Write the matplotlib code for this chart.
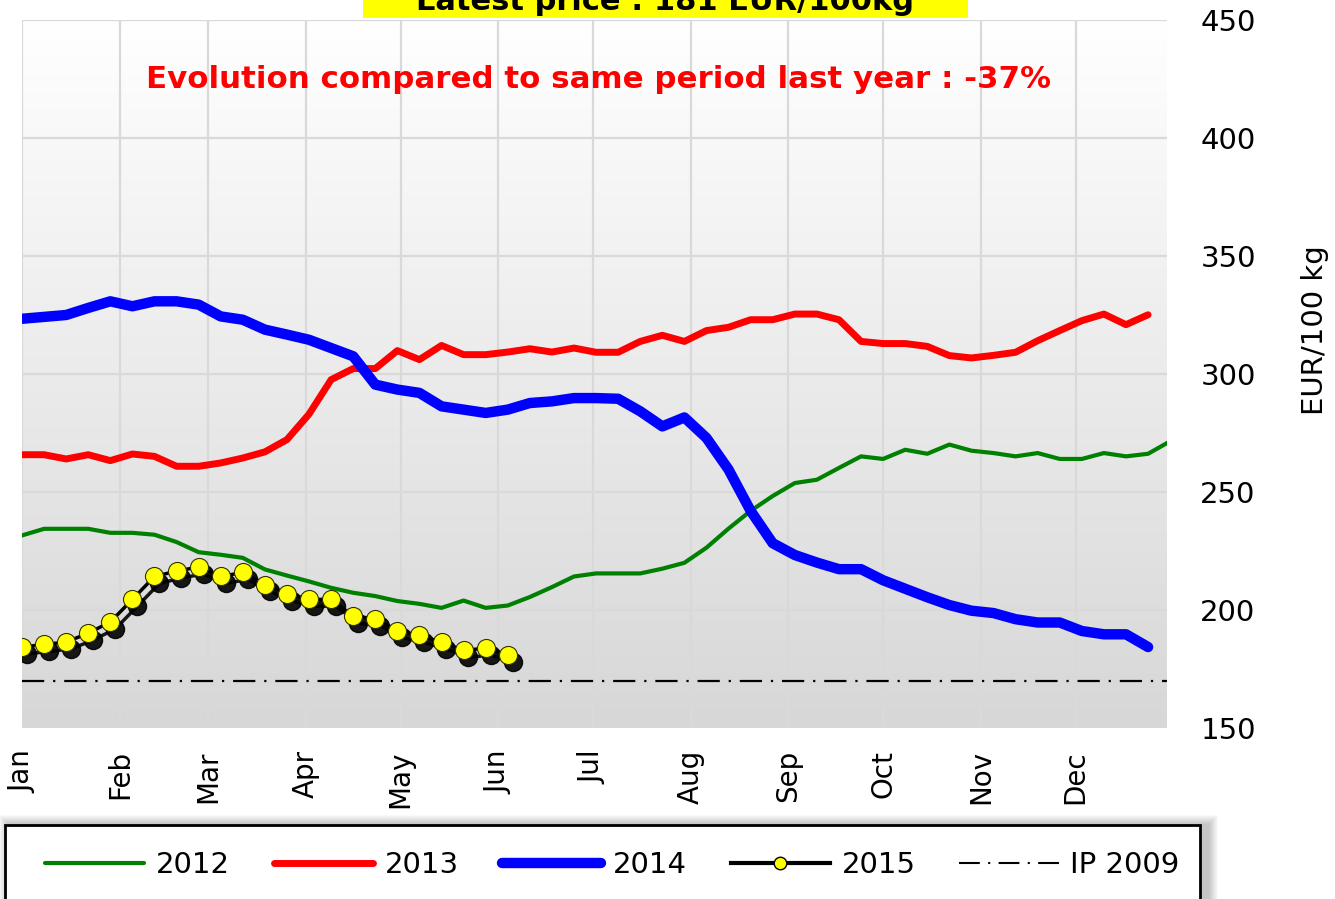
import numpy as np
import matplotlib
matplotlib.use('Agg')
from matplotlib import pyplot as plt
from matplotlib.lines import Line2D
from matplotlib.patches import Rectangle
from matplotlib.colors import LinearSegmentedColormap
from matplotlib.transforms import ScaledTranslation

plt.rc('font', family='DejaVu Sans')

months = ['Jan', 'Feb', 'Mar', 'Apr', 'May', 'Jun',
          'Jul', 'Aug', 'Sep', 'Oct', 'Nov', 'Dec']
month_days = [0, 31, 59, 90, 120, 151, 181, 212, 243, 273, 304, 334]

p2012 = [231.6, 234.4, 234.4, 234.4, 232.7, 232.7, 231.9, 228.8, 224.5, 223.4,
         222.1, 217.2, 214.6, 212.1, 209.4, 207.3, 205.9, 203.8, 202.6, 200.9,
         204.0, 200.9, 201.9, 205.5, 209.7, 214.2, 215.5, 215.5, 215.5, 217.5,
         220.0, 226.4, 234.5, 242.0, 248.3, 253.8, 255.2, 260.2, 265.1, 264.0,
         267.9, 266.2, 270.1, 267.5, 266.5, 265.1, 266.5, 264.0, 264.0, 266.5,
         265.1, 266.2, 271.5]
p2013 = [265.8, 265.8, 264.0, 265.8, 263.3, 266.1, 265.1, 260.9, 260.9, 262.3,
         264.4, 267.0, 272.2, 283.0, 297.6, 302.3, 302.3, 309.9, 306.1, 312.1,
         308.2, 308.2, 309.3, 310.7, 309.3, 311.0, 309.2, 309.2, 313.8, 316.4,
         313.8, 318.4, 319.8, 323.0, 323.0, 325.4, 325.4, 323.0, 313.8, 312.9,
         312.9, 311.7, 307.8, 306.8, 307.9, 309.2, 314.1, 318.4, 322.6, 325.4,
         320.9, 325.1]
p2014 = [323.4, 324.2, 325.0, 328.0, 330.8, 328.7, 330.8, 330.8, 329.4, 324.4,
         323.0, 318.8, 316.7, 314.5, 311.0, 307.5, 295.5, 293.4, 292.0, 286.3,
         284.9, 283.5, 284.9, 287.7, 288.4, 289.8, 289.8, 289.5, 284.2, 277.8,
         281.6, 272.9, 259.5, 242.0, 228.3, 223.3, 220.1, 217.3, 217.3, 212.6,
         209.0, 205.4, 202.1, 199.7, 198.7, 196.1, 194.7, 194.7, 191.1, 189.7,
         189.7, 184.3]
p2015 = [184.3, 185.4, 186.4, 190.2, 194.9, 204.5, 214.2, 216.5, 218.2, 214.2,
         215.9, 210.8, 206.9, 204.5, 204.5, 197.4, 196.3, 191.3, 189.2, 186.4,
         182.9, 183.8, 181.0]
ip2009 = 170

latest = 'Latest price : 181 EUR/100kg'
evolution = 'Evolution compared to same period last year : -37%'


def weeks(vals):
    return np.arange(len(vals)) * 7


W, H = 1335, 899
fig = plt.figure(figsize=(W / 100, H / 100), dpi=100)
ax = fig.add_axes([22 / W, 1 - 728 / H, 1145 / W, 708 / H])
xmax = 363

# background gradient, white at the top to grey at the bottom
bg = LinearSegmentedColormap.from_list('bg', ['#ffffff', '#d7d7d7'])
ax.imshow(np.linspace(0, 1, 256).reshape(-1, 1), cmap=bg, aspect='auto',
          extent=[0, xmax, 150, 450], origin='upper', zorder=0)

ax.plot(weeks(p2012), p2012, color='#008000', lw=3, zorder=3,
        solid_capstyle='round')
ax.plot(weeks(p2013), p2013, color='#ff0000', lw=5, zorder=4,
        solid_capstyle='round')
ax.plot(weeks(p2014), p2014, color='#0000ff', lw=7.5, zorder=5,
        solid_capstyle='round')
ax.axhline(ip2009, color='black', lw=1.6, ls=(0, (10, 4, 1, 4)), zorder=3)

shadow = ax.transData + ScaledTranslation(3.5 / 72, -5 / 72, fig.dpi_scale_trans)
ax.plot(weeks(p2015), p2015, color='black', lw=2.5, marker='o', ms=13,
        mfc='black', mec='black', alpha=0.9, transform=shadow, zorder=6)
ax.plot(weeks(p2015), p2015, color='black', lw=2.5, marker='o', ms=13,
        mfc='#ffff00', mec='#333300', mew=0.8, zorder=7)

ax.set_xlim(0, xmax)
ax.set_ylim(150, 450)
ax.set_xticks(month_days)
ax.set_xticklabels(months, rotation=90, fontsize=20)
ax.set_yticks(range(150, 451, 50))
ax.yaxis.tick_right()
ax.tick_params(axis='y', length=0, pad=24, labelsize=21)
ax.tick_params(axis='x', length=0, pad=16)
ax.grid(color='#d9d9d9', lw=1.6)
ax.set_axisbelow(True)
for s in ax.spines.values():
    s.set_visible(False)

fig.text(1315 / W, 1 - 330 / H, 'EUR/100 kg', rotation=90, fontsize=21,
         ha='center', va='center')

fig.text(598 / W, 1 - 80 / H, evolution, color='#ff0000', fontsize=22.2,
         fontweight='bold', ha='center', va='center')

# yellow banner, cut by the top edge as in the source
fig.patches.append(Rectangle((363 / W, 1 - 18 / H), 605 / W, 40 / H,
                             transform=fig.transFigure, facecolor='#ffff00',
                             edgecolor='none', zorder=1))
fig.text(665 / W, 1 - 10 / H, latest, fontsize=22, fontweight='bold',
         ha='center', va='baseline', zorder=2)

# legend box with soft shadow
for i in range(10, 0, -1):
    fig.patches.append(Rectangle(((5 + 4 - i) / W, -0.05), (1195 + 2 * i + 4) / W,
                                 (H * 0.05 + 74 + i) / H,
                                 transform=fig.transFigure, facecolor='black',
                                 edgecolor='none', alpha=0.025, zorder=1))
fig.patches.append(Rectangle((5 / W, -0.05), 1195 / W, (H * 0.05 + 74) / H,
                             transform=fig.transFigure, facecolor='white',
                             edgecolor='black', lw=2, zorder=2))

handles = [Line2D([], [], color='#008000', lw=3, solid_capstyle='round'),
           Line2D([], [], color='#ff0000', lw=5, solid_capstyle='round'),
           Line2D([], [], color='#0000ff', lw=7.5, solid_capstyle='round'),
           Line2D([], [], color='black', lw=3, marker='o', ms=9,
                  mfc='#ffff00', mec='black'),
           Line2D([], [], color='black', lw=1.5, ls=(0, (10, 4, 1, 4)))]
labels = ['2012', '2013', '2014', '2015', 'IP 2009']
fig.legend(handles, labels, loc='center left', ncol=5, frameon=False,
           bbox_to_anchor=(45 / W, 1 - 865 / H), borderpad=0, borderaxespad=0,
           fontsize=21, handlelength=3.4, handletextpad=0.4,
           columnspacing=1.5)

fig.savefig('out.png', dpi=100)
